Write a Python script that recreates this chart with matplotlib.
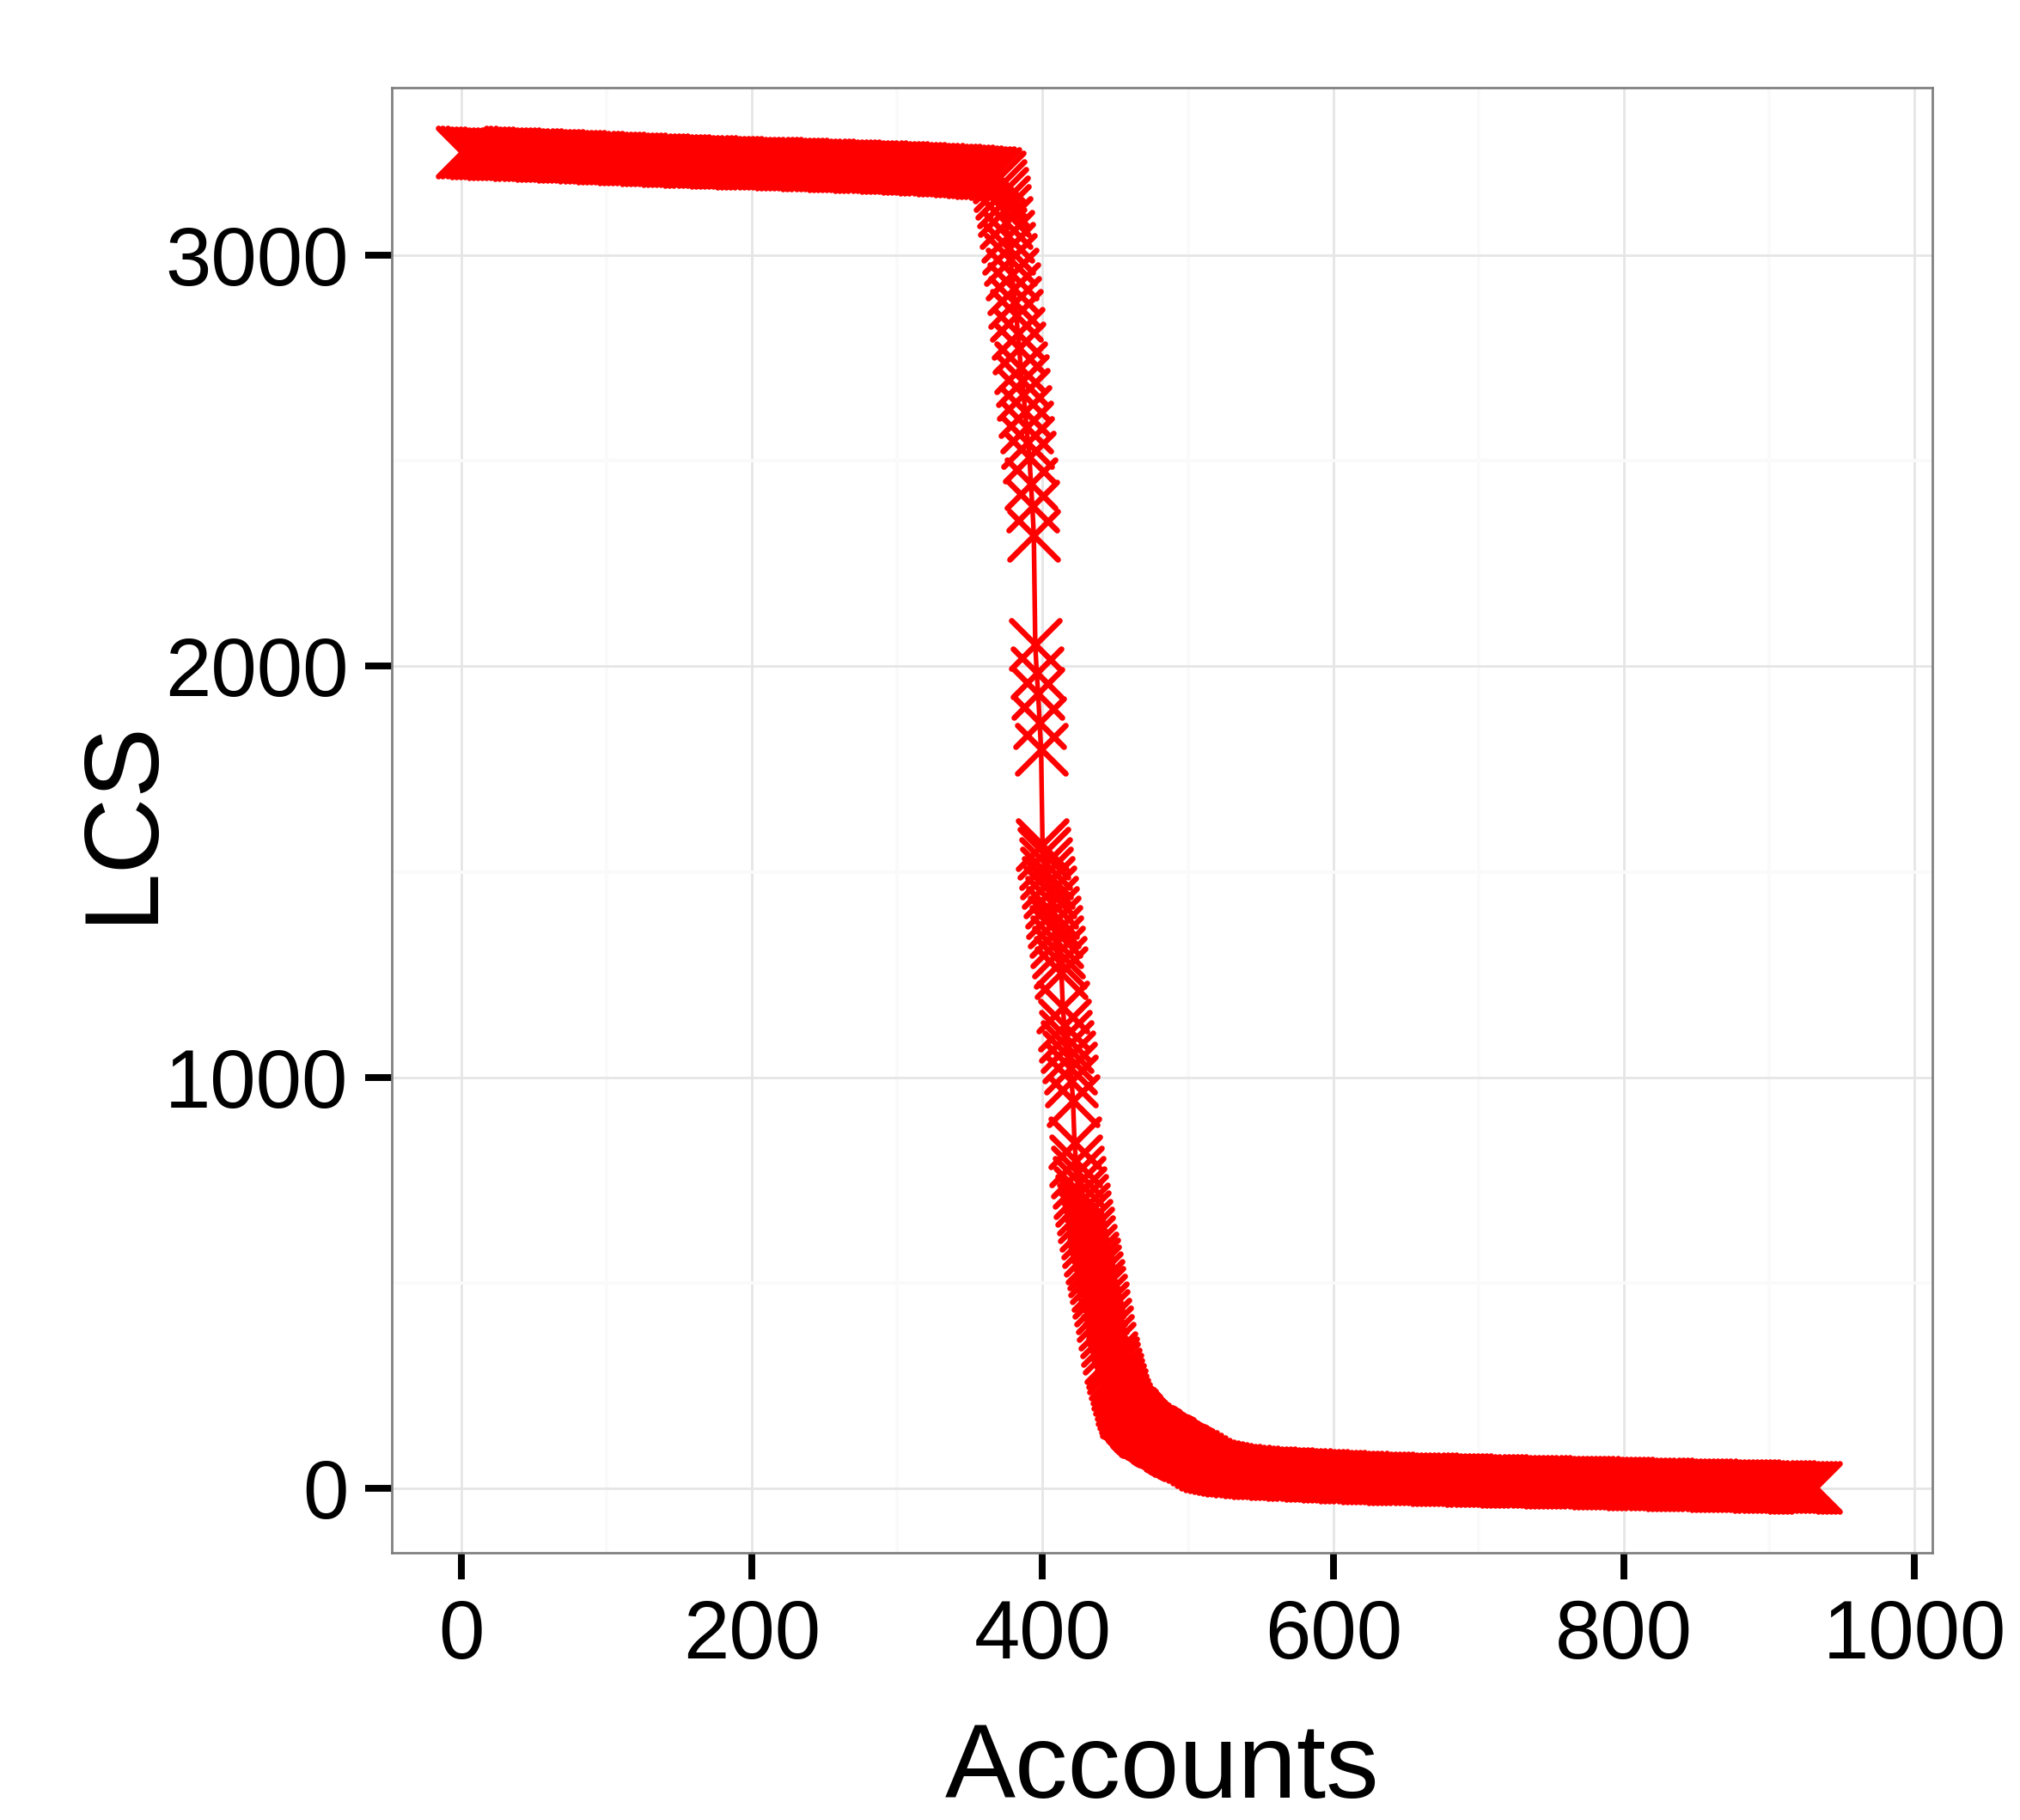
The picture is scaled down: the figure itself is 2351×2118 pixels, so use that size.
import matplotlib
matplotlib.use('Agg')
import matplotlib.pyplot as plt
from matplotlib.markers import MarkerStyle
import numpy as np

# ---------------- data ----------------
# plateau: accounts 1, 4, 7, ..., 367
plateau_start, plateau_step = 1, 3
plateau_lcs = [
    3252, 3251, 3251, 3250, 3250, 3249, 3249, 3248, 3248, 3247,
    3247, 3246, 3246, 3245, 3245, 3245, 3244, 3244, 3243, 3243,
    3243, 3242, 3242, 3241, 3241, 3240, 3240, 3240, 3239, 3239,
    3238, 3238, 3237, 3237, 3237, 3236, 3236, 3235, 3235, 3235,
    3234, 3234, 3233, 3233, 3233, 3232, 3232, 3231, 3231, 3231,
    3230, 3230, 3229, 3229, 3229, 3228, 3228, 3228, 3227, 3227,
    3227, 3226, 3226, 3226, 3225, 3225, 3225, 3224, 3224, 3224,
    3223, 3223, 3223, 3222, 3222, 3222, 3221, 3221, 3221, 3220,
    3220, 3220, 3219, 3219, 3219, 3218, 3218, 3218, 3217, 3217,
    3217, 3216, 3216, 3216, 3215, 3215, 3215, 3214, 3214, 3213,
    3213, 3213, 3212, 3212, 3211, 3211, 3210, 3210, 3209, 3209,
    3208, 3208, 3207, 3207, 3206, 3205, 3205, 3204, 3203, 3202,
    3201, 3200, 3199,
]

# steep drop: every account from 370 on
steep_start = 370
steep_lcs = [
    3190, 3170, 3150, 3130, 3110, 3080, 3046, 3018, 2990, 2955,
    2918, 2885, 2854, 2810, 2774, 2726, 2695, 2662, 2620, 2582,
    2545, 2510, 2445, 2390, 2318, 2054, 1985, 1934, 1862, 1798,
    1566, 1545, 1520, 1497, 1475, 1450, 1425, 1400, 1378, 1355,
    1330, 1305, 1280, 1254, 1170, 1126, 1100, 1075, 1050, 1022,
    990, 942, 840, 797, 770, 745, 720, 700, 680, 660,
    640, 620, 600, 580, 560, 545, 530, 512, 494, 476,
    458, 440, 420, 400, 380, 360, 340, 318, 305, 292,
    279, 266, 253, 240, 228, 216, 205, 195, 186,
]

# knee of the tail: every account from 459 on
knee_start = 459
knee_lcs = [
    185, 181, 177, 173, 169, 165, 161, 157, 153, 150,
    147, 144, 141, 139, 137, 135, 133, 131, 129, 127,
    124, 122, 120, 118, 116, 114, 112, 110, 108, 105,
    103, 101, 99, 97, 95, 93, 91, 89, 87, 85,
    83, 81,
]

# long tail: accounts 503, 506, ..., 932
tail_start, tail_step = 503, 3
tail_lcs = [
    77, 72, 65, 59, 55, 52, 50, 48, 46, 44,
    43, 42, 41, 40, 39, 38, 38, 37, 37, 36,
    36, 35, 35, 34, 34, 33, 33, 32, 32, 31,
    31, 30, 30, 29, 29, 28, 28, 27, 27, 27,
    26, 26, 26, 25, 25, 25, 24, 24, 24, 23,
    23, 23, 22, 22, 22, 22, 21, 21, 21, 21,
    20, 20, 20, 20, 19, 19, 19, 19, 18, 18,
    18, 18, 17, 17, 17, 17, 17, 16, 16, 16,
    16, 16, 15, 15, 15, 15, 15, 14, 14, 14,
    14, 14, 14, 13, 13, 13, 13, 12, 12, 12,
    12, 11, 11, 11, 11, 10, 10, 10, 10, 10,
    9, 9, 9, 9, 9, 8, 8, 8, 8, 8,
    7, 7, 7, 7, 7, 6, 6, 6, 6, 6,
    5, 5, 5, 5, 4, 4, 4, 4, 3, 3,
    3, 3, 2, 2,
]

x_ticks = [0, 200, 400, 600, 800, 1000]
y_ticks = [0, 1000, 2000, 3000]
x_label = "Accounts"
y_label = "LCS"

accounts = np.concatenate([
    plateau_start + plateau_step * np.arange(len(plateau_lcs)),
    steep_start + np.arange(len(steep_lcs)),
    knee_start + np.arange(len(knee_lcs)),
    tail_start + tail_step * np.arange(len(tail_lcs)),
])
lcs = np.concatenate([plateau_lcs, steep_lcs, knee_lcs, tail_lcs]).astype(float)

# ---------------- figure ----------------
W, H = 2351, 2118
DPI = 300
plt.rcParams['font.family'] = ['Liberation Sans', 'DejaVu Sans']

fig = plt.figure(figsize=(W / DPI, H / DPI), dpi=DPI)
fig.patch.set_facecolor('white')
ax = fig.add_axes([456 / W, 1 - 1807 / H, (2249 - 456) / W, (1807 - 102) / H])

red = '#FF0000'
ax.plot(accounts, lcs, color=red, lw=1.3, zorder=3, solid_joinstyle='round')
ax.plot(accounts, lcs, ls='none',
        marker=MarkerStyle('x', capstyle='round'),
        ms=13.6, mew=1.6, color=red, zorder=4)

ax.set_xlim(-47.7, 1012.2)
ax.set_ylim(-156.8, 3408)

ax.set_xticks(x_ticks)
ax.set_yticks(y_ticks)
ax.set_xticklabels([str(v) for v in x_ticks])
ax.set_yticklabels([str(v) for v in y_ticks])
ax.set_xticks([100, 300, 500, 700, 900], minor=True)
ax.set_yticks([500, 1500, 2500], minor=True)

ax.set_axisbelow(True)
ax.grid(which='major', color='#E5E5E5', lw=0.65)
ax.grid(which='minor', color='#FAFAFA', lw=0.9)

for s in ax.spines.values():
    s.set_color('#7F7F7F')
    s.set_linewidth(0.65)
    s.set_zorder(5)

ax.tick_params(which='minor', length=0)
ax.tick_params(which='major', direction='out', length=7.4, width=1.9,
               color='black', labelcolor='black', labelsize=23)
ax.tick_params(axis='x', which='major', pad=5.3)
ax.tick_params(axis='y', which='major', pad=4.7)

fig.text(1352.5 / W, 1 - 2092 / H, x_label, ha='center', va='baseline',
         fontsize=29.5, color='black')
fig.text(175 / W, 1 - 954 / H, y_label, ha='center', va='baseline',
         rotation=90, rotation_mode='anchor', fontsize=29.5, color='black')

fig.savefig('out.png', dpi=DPI, facecolor='white')
